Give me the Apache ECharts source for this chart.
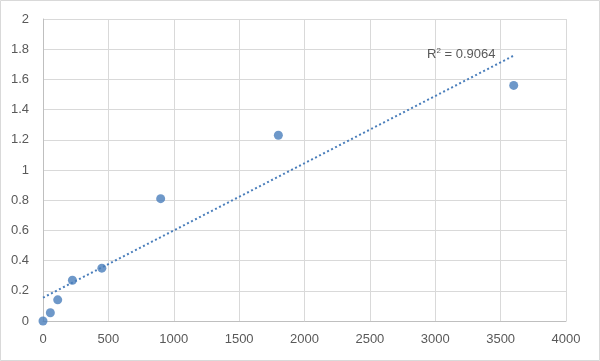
<!DOCTYPE html>
<html>
<head>
<meta charset="utf-8">
<script src="https://cdn.jsdelivr.net/npm/echarts@6/dist/echarts.min.js"></script>
<style>html,body{margin:0;padding:0;background:#fff}#c{width:600px;height:361px}</style>
</head>
<body>
<div id="c"></div>
<script>
var xValues = [0, 56.25, 112.5, 225, 450, 900, 1800, 3600];
var yValues = [0, 0.055, 0.14, 0.27, 0.35, 0.81, 1.23, 1.56];
var r2Label = '0.9064';
var xTicks = {min: 0, max: 4000, interval: 500};
var yTicks = {min: 0, max: 2, interval: 0.2};

// linear least-squares trendline from the data
var n = xValues.length, mx = 0, my = 0;
for (var i = 0; i < n; i++) { mx += xValues[i]; my += yValues[i]; }
mx /= n; my /= n;
var sxy = 0, sxx = 0;
for (var i = 0; i < n; i++) { sxy += (xValues[i]-mx)*(yValues[i]-my); sxx += (xValues[i]-mx)*(xValues[i]-mx); }
var slope = sxy / sxx, intercept = my - slope * mx;
var xEnd = xValues[n-1];
var trend = [[0, intercept], [xEnd, intercept + slope * xEnd]];

var pts = xValues.map(function (x, i) { return [x, yValues[i]]; });
var chart = echarts.init(document.getElementById('c'));
var font = '"Liberation Sans", Arial, sans-serif';
chart.setOption({
  animation: false,
  grid: {left: 43, right: 34, top: 19, bottom: 40},
  xAxis: {
    type: 'value', min: xTicks.min, max: xTicks.max, interval: xTicks.interval,
    axisLine: {show: true, lineStyle: {color: '#bfbfbf', width: 1}},
    axisTick: {show: false},
    axisLabel: {color: '#595959', fontSize: 13, fontFamily: font, margin: 12,
      formatter: function (v) { return String(v); }},
    splitLine: {show: true, lineStyle: {color: '#d9d9d9', width: 1}}
  },
  yAxis: {
    type: 'value', min: yTicks.min, max: yTicks.max, interval: yTicks.interval,
    axisLine: {show: true, lineStyle: {color: '#bfbfbf', width: 1}},
    axisTick: {show: false},
    axisLabel: {color: '#595959', fontSize: 13, fontFamily: font, margin: 14,
      formatter: function (v) { return String(Math.round(v * 10) / 10); }},
    splitLine: {show: true, lineStyle: {color: '#d9d9d9', width: 1}}
  },
  series: [
    {
      type: 'line', data: trend, symbol: 'none', silent: true,
      lineStyle: {color: '#4a7ebb', width: 2, type: [2, 2.5]}, z: 2
    },
    {
      type: 'scatter', data: pts, symbolSize: 9,
      itemStyle: {color: '#4a7ebb'}, z: 3
    }
  ],
  graphic: [
    {type: 'rect', shape: {x: 0.5, y: 0.5, width: 599, height: 360}, style: {fill: 'none', stroke: '#d9d9d9', lineWidth: 1}, silent: true},
    {type: 'text', left: 427, top: 47, z: 10, style: {
      text: '{a|R}{s|2}{a| = ' + r2Label + '}',
      rich: {
        a: {fontSize: 13, fontFamily: font, fill: '#595959'},
        s: {fontSize: 8, fontFamily: font, fill: '#595959', verticalAlign: 'top', padding: [0, 0, 6, 0]}
      }
    }}
  ]
});
</script>
</body>
</html>
